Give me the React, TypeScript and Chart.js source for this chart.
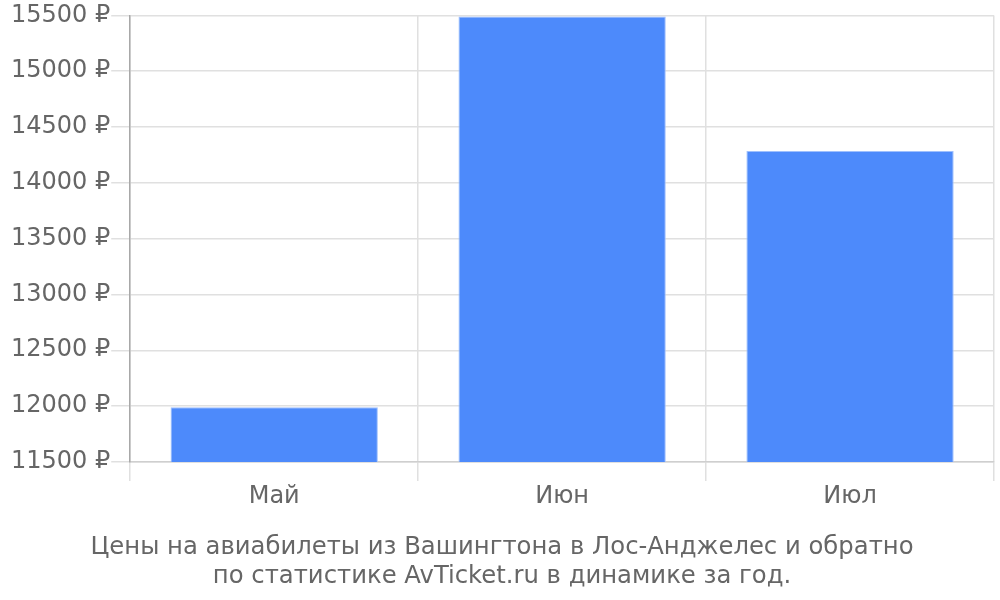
import React, { useEffect, useRef } from "react";
import { Chart, registerables } from "chart.js";

Chart.register(...registerables);

const categories = ["Май", "Июн", "Июл"];
const prices = [11990, 15490, 14285];
const titleLines = [
  "Цены на авиабилеты из Вашингтона в Лос-Анджелес и обратно",
  "по статистике AvTicket.ru в динамике за год.",
];

export default function App() {
  const ref = useRef<HTMLCanvasElement | null>(null);
  useEffect(() => {
    if (!ref.current) return;
    const font = "'DejaVu Sans', sans-serif";
    const chart = new Chart(ref.current, {
      type: "bar",
      data: {
        labels: categories,
        datasets: [
          {
            data: prices,
            backgroundColor: "#4d8afb",
            borderColor: "#9fc0fd",
            borderWidth: 1,
          },
        ],
      },
      options: {
        animation: false,
        responsive: true,
        maintainAspectRatio: false,
        layout: { padding: { right: 6, bottom: 9, left: 10, top: 0 } },
        plugins: {
          legend: { display: false },
          tooltip: { enabled: false },
          title: {
            display: true,
            position: "bottom",
            text: titleLines,
            color: "#666",
            font: { family: font, size: 24.3, weight: "normal" },
            padding: { top: 21, bottom: 0 },
          },
        },
        scales: {
          x: {
            grid: { color: "#e0e0e0", lineWidth: 1.5, tickLength: 19 },
            border: { color: "#cfcfcf", width: 1.5 },
            ticks: { color: "#666", font: { family: font, size: 24 }, padding: 1 },
          },
          y: {
            min: 11500,
            max: 15500,
            grid: { color: "#e0e0e0", lineWidth: 1.5, tickLength: 19 },
            border: { color: "#a8a8a8", width: 1.5 },
            ticks: {
              stepSize: 500,
              color: "#666",
              font: { family: font, size: 24 },
              padding: 1,
              callback: (v: any) => v + " ₽",
            },
          },
        },
      },
    });
    return () => chart.destroy();
  }, []);
  return (
    <div style={{ position: "absolute", left: 0, top: 0, width: 1000, height: 600 }}>
      <canvas ref={ref} />
    </div>
  );
}
